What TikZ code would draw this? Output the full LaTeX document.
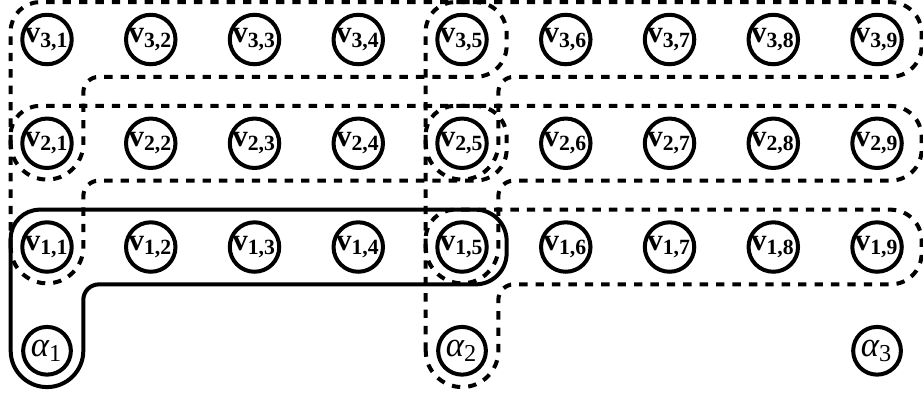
\documentclass[tikz,border=0pt]{standalone}
\usepackage{fontspec}
\setmainfont{Liberation Serif}
\usepackage{tikz}

\begin{document}
\begin{tikzpicture}[node distance=1 cm]
\tikzstyle{vertex} = [circle, minimum size=0.46 cm, inner sep=0 pt, draw=black, line width=1.1 pt, font=\fontsize{8.5}{10}\selectfont\bfseries]
\tikzstyle{avertex} = [vertex, font=\fontsize{9.5}{11}\selectfont]
\tikzstyle{solidgroup} = [draw=black, line width=1.1 pt]
\tikzstyle{dashgroup} = [draw=black, line width=1.1 pt, dash pattern=on 2.3 pt off 2.2 pt]
\useasboundingbox (-0.453,-1.426) rectangle (8.443,2.381);

\node (v11) [vertex] {v\textsubscript{1,1}};
\node (v12) [vertex, right of=v11] {v\textsubscript{1,2}};
\node (v13) [vertex, right of=v12] {v\textsubscript{1,3}};
\node (v14) [vertex, right of=v13] {v\textsubscript{1,4}};
\node (v15) [vertex, right of=v14] {v\textsubscript{1,5}};
\node (v16) [vertex, right of=v15] {v\textsubscript{1,6}};
\node (v17) [vertex, right of=v16] {v\textsubscript{1,7}};
\node (v18) [vertex, right of=v17] {v\textsubscript{1,8}};
\node (v19) [vertex, right of=v18] {v\textsubscript{1,9}};

\node (v21) [vertex, above of=v11] {v\textsubscript{2,1}};
\node (v22) [vertex, right of=v21] {v\textsubscript{2,2}};
\node (v23) [vertex, right of=v22] {v\textsubscript{2,3}};
\node (v24) [vertex, right of=v23] {v\textsubscript{2,4}};
\node (v25) [vertex, right of=v24] {v\textsubscript{2,5}};
\node (v26) [vertex, right of=v25] {v\textsubscript{2,6}};
\node (v27) [vertex, right of=v26] {v\textsubscript{2,7}};
\node (v28) [vertex, right of=v27] {v\textsubscript{2,8}};
\node (v29) [vertex, right of=v28] {v\textsubscript{2,9}};

\node (v31) [vertex, above of=v21] {v\textsubscript{3,1}};
\node (v32) [vertex, right of=v31] {v\textsubscript{3,2}};
\node (v33) [vertex, right of=v32] {v\textsubscript{3,3}};
\node (v34) [vertex, right of=v33] {v\textsubscript{3,4}};
\node (v35) [vertex, right of=v34] {v\textsubscript{3,5}};
\node (v36) [vertex, right of=v35] {v\textsubscript{3,6}};
\node (v37) [vertex, right of=v36] {v\textsubscript{3,7}};
\node (v38) [vertex, right of=v37] {v\textsubscript{3,8}};
\node (v39) [vertex, right of=v38] {v\textsubscript{3,9}};

\node (a1) [avertex, below of=v11] {{\itshape α}\textsubscript{1}};
\node (a2) [avertex, below of=v15] {{\itshape α}\textsubscript{2}};
\node (a3) [avertex, below of=v19] {{\itshape α}\textsubscript{3}};

% row 1 with alpha 1
\draw [solidgroup, shift={(v11)}] (-0.35,-1) -- (-0.35,0.08) arc (180:90:0.28) -- (4.13,0.36) arc (90:0:0.3) -- (4.43,-0.06) arc (0:-90:0.3) -- (0.5,-0.36) arc (90:180:0.15) -- (0.35,-1) arc (0:-180:0.35) -- cycle;

% left half
\draw [dashgroup, shift={(v21)}] (-0.35,-1) -- (-0.35,0.08) arc (180:90:0.28) -- (4.13,0.36) arc (90:0:0.3) -- (4.43,-0.06) arc (0:-90:0.3) -- (0.5,-0.36) arc (90:180:0.15) -- (0.35,-1) arc (0:-180:0.35) -- cycle;
\draw [dashgroup, shift={(v31)}] (-0.35,-1) -- (-0.35,0.08) arc (180:90:0.28) -- (4.13,0.36) arc (90:0:0.3) -- (4.43,-0.06) arc (0:-90:0.3) -- (0.5,-0.36) arc (90:180:0.15) -- (0.35,-1) arc (0:-180:0.35) -- cycle;

% right half
\draw [dashgroup, shift={(v15)}] (-0.35,-1) -- (-0.35,0.08) arc (180:90:0.28) -- (4.13,0.36) arc (90:0:0.3) -- (4.43,-0.06) arc (0:-90:0.3) -- (0.5,-0.36) arc (90:180:0.15) -- (0.35,-1) arc (0:-180:0.35) -- cycle;
\draw [dashgroup, shift={(v25)}] (-0.35,-1) -- (-0.35,0.08) arc (180:90:0.28) -- (4.13,0.36) arc (90:0:0.3) -- (4.43,-0.06) arc (0:-90:0.3) -- (0.5,-0.36) arc (90:180:0.15) -- (0.35,-1) arc (0:-180:0.35) -- cycle;
\draw [dashgroup, shift={(v35)}] (-0.35,-1) -- (-0.35,0.08) arc (180:90:0.28) -- (4.13,0.36) arc (90:0:0.3) -- (4.43,-0.06) arc (0:-90:0.3) -- (0.5,-0.36) arc (90:180:0.15) -- (0.35,-1) arc (0:-180:0.35) -- cycle;

\end{tikzpicture}
\end{document}
